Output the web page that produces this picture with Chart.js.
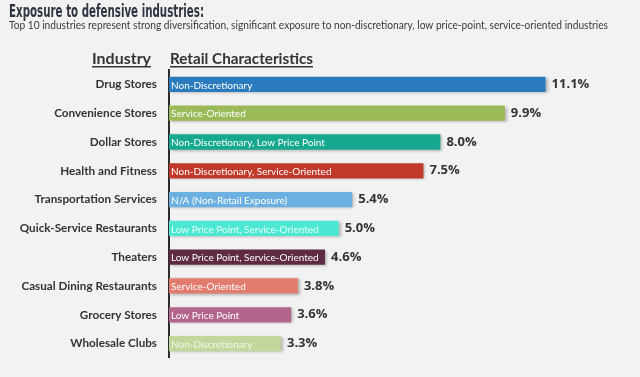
<!DOCTYPE html>
<html>
<head>
<meta charset="utf-8">
<script src="https://cdn.jsdelivr.net/npm/chart.js@4.4.0/dist/chart.umd.min.js"></script>
<style>
  html, body { margin: 0; padding: 0; background: #f2f2f2; }
  #wrap { width: 640px; height: 377px; position: relative; }
</style>
</head>
<body>
<div id="wrap"><canvas id="c" width="640" height="377"></canvas></div>
<script>
const industries = ["Drug Stores", "Convenience Stores", "Dollar Stores", "Health and Fitness",
  "Transportation Services", "Quick-Service Restaurants", "Theaters", "Casual Dining Restaurants",
  "Grocery Stores", "Wholesale Clubs"];
const shares = [11.1, 9.9, 8.0, 7.5, 5.4, 5.0, 4.6, 3.8, 3.6, 3.3];
const characteristics = ["Non-Discretionary", "Service-Oriented", "Non-Discretionary, Low Price Point",
  "Non-Discretionary, Service-Oriented", "N/A (Non-Retail Exposure)", "Low Price Point, Service-Oriented",
  "Low Price Point, Service-Oriented", "Service-Oriented", "Low Price Point", "Non-Discretionary"];
const barColors = ["#2a7bbd", "#9bbb59", "#17a98f", "#c0392b", "#6cb0e2", "#4de8d4",
  "#5e2a44", "#e27c6e", "#b3658c", "#c3d69b"];
const innerTextColors = ["#ffffff", "#ffffff", "#ffffff", "#ffffff", "#ffffff", "#e8fffb",
  "#ffffff", "#ffffff", "#ffffff", "#f2f6e6"];
const title = "Exposure to defensive industries:";
const subtitle = "Top 10 industries represent strong diversification, significant exposure to non-discretionary, low price-point, service-oriented industries";

function fitText(ctx, text, x, y, width, align) {
  const w = ctx.measureText(text).width;
  const s = width / w;
  ctx.save();
  ctx.translate(x, y);
  ctx.scale(s, 1);
  ctx.textAlign = 'left';
  const ox = align === 'right' ? -w : 0;
  ctx.fillText(text, ox, 0);
  ctx.restore();
}

const decor = {
  id: 'decor',
  beforeDatasetsDraw(chart) {
    const ctx = chart.ctx;
    ctx.save();
    ctx.shadowColor = 'rgba(0,0,0,0.28)';
    ctx.shadowBlur = 3;
    ctx.shadowOffsetX = 2;
    ctx.shadowOffsetY = 1;
  },
  afterDatasetsDraw(chart) {
    const ctx = chart.ctx;
    ctx.restore();
    const meta = chart.getDatasetMeta(0);
    const area = chart.chartArea;
    ctx.save();
    meta.data.forEach((bar, i) => {
      ctx.font = '10px Lato, sans-serif';
      ctx.fillStyle = innerTextColors[i];
      ctx.textAlign = 'left';
      ctx.textBaseline = 'middle';
      ctx.fillText(characteristics[i], area.left + 2, bar.y + 1);
      ctx.font = 'bold 13px "Open Sans", sans-serif';
      ctx.fillStyle = '#333333';
      ctx.fillText(shares[i].toFixed(1) + '%', bar.x + 6, bar.y);
    });
    ctx.restore();
  },
  afterDraw(chart) {
    const ctx = chart.ctx;
    const area = chart.chartArea;
    ctx.save();
    ctx.fillStyle = '#2f3540';
    ctx.textBaseline = 'alphabetic';
    ctx.font = 'bold 17px "DejaVu Sans", sans-serif';
    fitText(ctx, title, 9, 17, 195, 'left');
    ctx.font = '10.5px Lato, sans-serif';
    ctx.fillStyle = '#3a3a3a';
    fitText(ctx, subtitle, 9, 28.5, 599, 'left');
    // headers
    ctx.fillStyle = '#333333';
    ctx.font = 'bold 16px Lato, sans-serif';
    const hx = area.left - 18;
    fitText(ctx, 'Industry', hx, 64, 59, 'right');
    ctx.fillRect(hx - 59, 66, 59, 1.5);
    const rx = area.left + 1;
    fitText(ctx, 'Retail Characteristics', rx, 64, 143, 'left');
    ctx.fillRect(rx, 66, 143, 1.5);
    ctx.restore();
  }
};

new Chart(document.getElementById('c'), {
  type: 'bar',
  data: {
    labels: industries,
    datasets: [{
      data: shares,
      backgroundColor: barColors,
      borderWidth: 0,
      barPercentage: 0.53,
      categoryPercentage: 1.0
    }]
  },
  options: {
    indexAxis: 'y',
    responsive: false,
    animation: false,
    devicePixelRatio: 1,
    layout: { padding: { top: 70, bottom: 15, right: 13, left: 0 } },
    plugins: { legend: { display: false }, tooltip: { enabled: false }, title: { display: false } },
    scales: {
      x: { display: false, min: 0, max: 13.5 },
      y: {
        afterFit(scale) { scale.width = 169; },
        grid: { display: false, drawTicks: false },
        border: { display: true, color: '#2b2b2b', width: 2 },
        ticks: {
          padding: 12,
          color: '#333333',
          font: { family: 'Lato, sans-serif', weight: 'bold', size: 11.7 }
        }
      }
    }
  },
  plugins: [decor]
});
</script>
</body>
</html>
